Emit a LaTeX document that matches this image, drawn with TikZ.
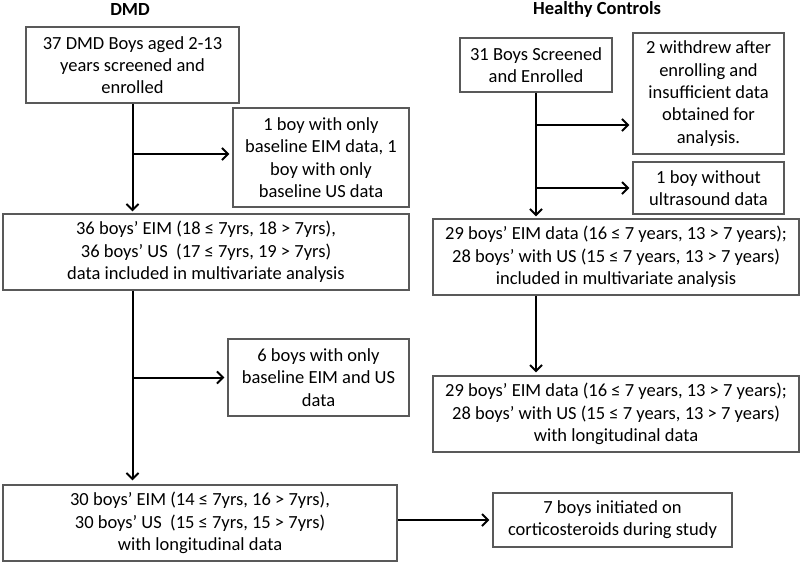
\documentclass[tikz,border=0pt]{standalone}
\usepackage{fontspec}
\setmainfont{Carlito}
\usetikzlibrary{arrows.meta,calc}
\tikzset{
  box/.style={draw=black!65, line width=1.2pt, fill=white, inner sep=0pt, align=center,
    font=\fontsize{18.5}{22.3}\selectfont},
  flow/.style={draw=black, line width=2pt, -{Straight Barb[length=6pt,width=12pt,line width=2pt]}},
  ttl/.style={font=\bfseries\fontsize{18.5}{22}\selectfont, inner sep=0pt}
}
\begin{document}
\begin{tikzpicture}[x=1pt,y=-1pt]
\useasboundingbox[fill=white] (0,0) rectangle (800,563);
% titles
\node[ttl] (t1) at (130,9) {DMD};
\node[ttl] (t2) at (597,9) {Healthy Controls};
% DMD column
\node[box, minimum width=213pt, minimum height=76pt] (A) at (132.5,65) {37 DMD Boys aged 2-13\\years screened and\\enrolled};
\node[box, minimum width=176pt, minimum height=99pt] (B) at (321,157.5) {1 boy with only\\baseline EIM data, 1\\boy with only\\baseline US data};
\node[box, minimum width=406pt, minimum height=76pt] (C) at (206,252) {36 boys’ EIM (18 ≤ 7yrs, 18 > 7yrs),\\36 boys’ US\ \ (17 ≤ 7yrs, 19 > 7yrs)\\data included in multivariate analysis};
\node[box, minimum width=181pt, minimum height=77pt] (D) at (318.5,377.5) {6 boys with only\\baseline EIM and US\\data};
\node[box, minimum width=394pt, minimum height=76pt] (E) at (200,523) {30 boys’ EIM (14 ≤ 7yrs, 16 > 7yrs),\\30 boys’ US\ \ (15 ≤ 7yrs, 15 > 7yrs)\\with longitudinal data};
\node[box, minimum width=239pt, minimum height=54pt] (F) at (612.5,520) {7 boys initiated on\\corticosteroids during study};
% Healthy controls column
\node[box, minimum width=152pt, minimum height=54pt] (G) at (536,65) {31 Boys Screened\\and Enrolled};
\node[box, minimum width=151pt, minimum height=121pt] (H) at (708.5,93.5) {2 withdrew after\\enrolling and\\insufficient data\\obtained for\\analysis.};
\node[box, minimum width=151pt, minimum height=52pt] (I) at (708.5,188) {1 boy without\\ultrasound data};
\node[box, minimum width=366pt, minimum height=76pt] (J) at (616,257) {29 boys’ EIM data (16 ≤ 7 years, 13 > 7 years);\\28 boys’ with US (15 ≤ 7 years, 13 > 7 years)\\included in multivariate analysis};
\node[box, minimum width=366pt, minimum height=76pt] (K) at (616,414) {29 boys’ EIM data (16 ≤ 7 years, 13 > 7 years);\\28 boys’ with US (15 ≤ 7 years, 13 > 7 years)\\with longitudinal data};
% connectors DMD
\coordinate (b1) at (133,154);
\coordinate (b2) at (133,377.5);
\draw[flow, shorten >=2pt] (A.south) -- (A.south |- C.north);
\draw[flow, shorten >=3pt] (b1) -- (b1 -| B.west);
\draw[flow, shorten >=4pt] (A.south |- C.south) -- (A.south |- E.north);
\draw[flow, shorten >=3pt] (b2) -- (b2 -| D.west);
\draw[flow, shorten >=3pt] (E.east |- F.west) -- (F.west);
% connectors controls
\coordinate (c1) at (536,125);
\draw[flow, shorten >=2pt] (G.south) -- (G.south |- J.north);
\draw[flow, shorten >=3pt] (c1) -- (c1 -| H.west);
\draw[flow, shorten >=3pt] (G.south |- I.west) -- (I.west);
\draw[flow, shorten >=3pt] (G.south |- J.south) -- (G.south |- K.north);
\end{tikzpicture}
\end{document}
